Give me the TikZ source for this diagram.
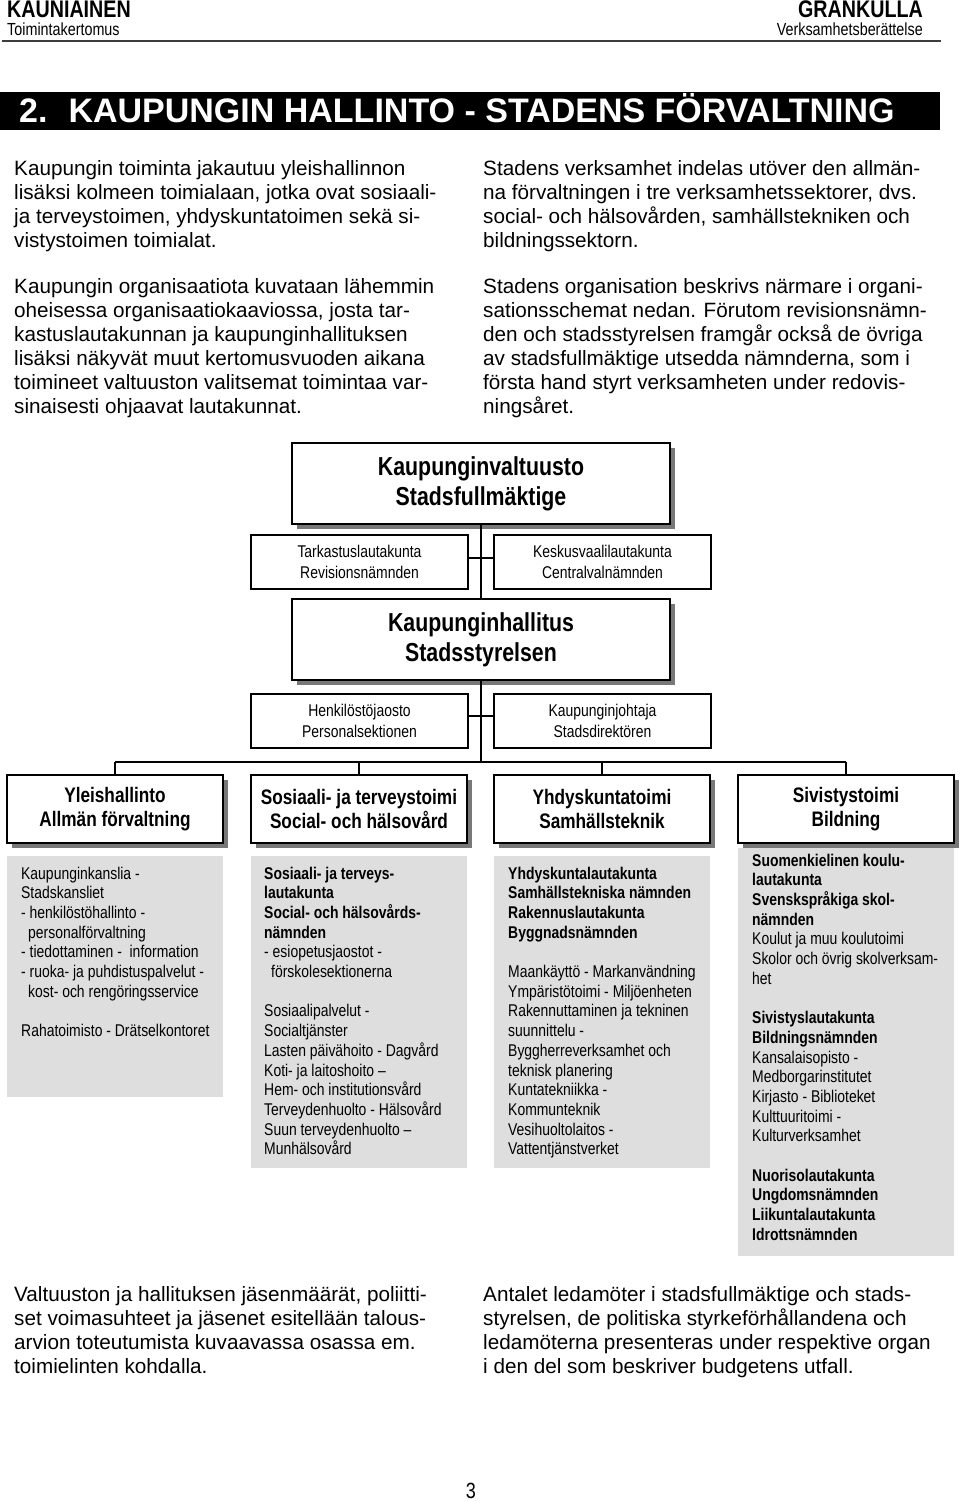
\documentclass[tikz,border=0pt]{standalone}
\usepackage{fontspec}
\setmainfont{Liberation Sans}
\newfontfamily\narrowfont[FakeStretch=0.82,Ligatures=TeX]{Liberation Sans}
\usetikzlibrary{shadows}
\definecolor{boxgray}{RGB}{222,222,222}
\definecolor{shadowgray}{RGB}{120,120,120}
\definecolor{rulegray}{RGB}{60,60,60}
\newcommand\txtlines[5]{%
  \foreach \Lt [count=\i from 0] in {#5} {
    \node[#1, name=#2-\i] at (#3, {#4+19.7*\i}) {\Lt};
  }%
}
\newcommand\bodylines[4]{%
  \foreach \Lt [count=\i from 0] in {#4} {
    \node[body, name=#1-\i] at (#2, {#3+24*\i}) {\Lt};
  }%
}
\begin{document}
\begin{tikzpicture}[x=1pt,y=-1pt,
  body/.style={anchor=base west, inner sep=0pt, font=\fontsize{20.7}{24}\selectfont},
  small/.style={anchor=base west, inner sep=0pt, font=\narrowfont\fontsize{17}{19.7}\selectfont},
  bigbox/.style={draw, line width=2pt, fill=white, minimum width=378pt, minimum height=81pt, inner sep=0pt, align=center, font=\narrowfont\fontsize{26}{30}\selectfont\bfseries, drop shadow={shadow xshift=5pt, shadow yshift=-5pt, fill=shadowgray, opacity=1}},
  subbox/.style={draw, line width=1.5pt, fill=white, minimum width=217pt, minimum height=54pt, inner sep=0pt, align=center, font=\narrowfont\fontsize{17}{21}\selectfont},
  colbox/.style={draw, line width=2pt, fill=white, minimum width=216pt, minimum height=68pt, inner sep=0pt, align=center, font=\narrowfont\fontsize{21}{24}\selectfont\bfseries, drop shadow={shadow xshift=5pt, shadow yshift=-5pt, fill=shadowgray, opacity=1}},
  conn/.style={line width=1.6pt},
]
\useasboundingbox (0,0) rectangle (960,1501);
\fill[white] (0,0) rectangle (960,1501);

% header
\node[anchor=base west, inner sep=0pt, font=\narrowfont\fontsize{24}{24}\selectfont\bfseries] (hl1) at (7,18) {KAUNIAINEN};
\node[anchor=base west, inner sep=0pt, font=\narrowfont\fontsize{17.5}{18}\selectfont] (hl2) at (7,36) {Toimintakertomus};
\node[anchor=base east, inner sep=0pt, font=\narrowfont\fontsize{24}{24}\selectfont\bfseries] (hr1) at (923,18) {GRANKULLA};
\node[anchor=base east, inner sep=0pt, font=\narrowfont\fontsize{17.5}{18}\selectfont] (hr2) at (923,36) {Verksamhetsberättelse};
\draw[line width=2pt, rulegray] (2,41) -- (941,41);

% title bar
\fill[black] (0,92) rectangle (940,130);
\node[anchor=base west, inner sep=0pt, text=white, font=\fontsize{34}{34}\selectfont\bfseries] (title) at (19,122.5) {2.\hspace{21pt}KAUPUNGIN HALLINTO - STADENS FÖRVALTNING};

% top paragraphs
\bodylines{pl1}{14}{175}{{Kaupungin toiminta jakautuu yleishallinnon},{lisäksi kolmeen toimialaan, jotka ovat sosiaali-},{ja terveystoimen, yhdyskuntatoimen sekä si-},{vistystoimen toimialat.}}
\bodylines{pl2}{14}{293}{{Kaupungin organisaatiota kuvataan lähemmin},{oheisessa organisaatiokaaviossa, josta tar-},{kastuslautakunnan ja kaupunginhallituksen},{lisäksi näkyvät muut kertomusvuoden aikana},{toimineet valtuuston valitsemat toimintaa var-},{sinaisesti ohjaavat lautakunnat.}}
\bodylines{pr1}{483}{175}{{Stadens verksamhet indelas utöver den allmän-},{na förvaltningen i tre verksamhetssektorer, dvs.},{social- och hälsovården, samhällstekniken och},{bildningssektorn.}}
\bodylines{pr2}{483}{293}{{Stadens organisation beskrivs närmare i organi-},{sationsschemat nedan. Förutom revisionsnämn-},{den och stadsstyrelsen framgår också de övriga},{av stadsfullmäktige utsedda nämnderna, som i},{första hand styrt verksamheten under redovis-},{ningsåret.}}

% org chart
\node[bigbox] (A) at (481,483.5) {Kaupunginvaltuusto\\Stadsfullmäktige};
\node[subbox] (T) at (359.5,562) {Tarkastuslautakunta\\Revisionsnämnden};
\node[subbox] (Kv) at (602.5,562) {Keskusvaalilautakunta\\Centralvalnämnden};
\node[bigbox] (H) at (481,639.5) {Kaupunginhallitus\\Stadsstyrelsen};
\node[subbox] (Hj) at (359.5,721) {Henkilöstöjaosto\\Personalsektionen};
\node[subbox] (Kj) at (602.5,721) {Kaupunginjohtaja\\Stadsdirektören};
\node[colbox] (c1) at (115,809) {Yleishallinto\\Allmän förvaltning};
\node[colbox] (c2) at (359,809) {Sosiaali- ja terveystoimi\\Social- och hälsovård};
\node[colbox] (c3) at (602,809) {Yhdyskuntatoimi\\Samhällsteknik};
\node[colbox] (c4) at (846,809) {Sivistystoimi\\Bildning};
\coordinate (bus) at (481,762);

\draw[conn] (A.south) -- (H.north);
\draw[conn] ([yshift=4pt]T.east) -- ([yshift=4pt]Kv.west);
\draw[conn] (H.south) -- (bus);
\draw[conn] ([yshift=5pt]Hj.east) -- ([yshift=5pt]Kj.west);
\draw[conn] (c1.north |- bus) -- (c4.north |- bus);
\foreach \c in {c1,c2,c3,c4} \draw[conn] (\c.north |- bus) -- (\c.north);

% grey boxes
\fill[boxgray] (7,856) rectangle (223,1097);
\fill[boxgray] (251,856) rectangle (467,1168);
\fill[boxgray] (494,856) rectangle (710,1168);
\fill[boxgray] (738,848) rectangle (954,1256);

\txtlines{small}{g1}{21}{879}{{Kaupunginkanslia -},{Stadskansliet},{- henkilöstöhallinto -},{\hspace{7pt}personalförvaltning},{- tiedottaminen -\ \ information},{- ruoka- ja puhdistuspalvelut -},{\hspace{7pt}kost- och rengöringsservice},{},{Rahatoimisto - Drätselkontoret}}
\txtlines{small}{g2}{264}{879}{{\bfseries Sosiaali- ja terveys-},{\bfseries lautakunta},{\bfseries Social- och hälsovårds-},{\bfseries nämnden},{- esiopetusjaostot -},{\hspace{7pt}förskolesektionerna},{},{Sosiaalipalvelut -},{Socialtjänster},{Lasten päivähoito - Dagvård},{Koti- ja laitoshoito –},{Hem- och institutionsvård},{Terveydenhuolto - Hälsovård},{Suun terveydenhuolto –},{Munhälsovård}}
\txtlines{small}{g3}{508}{879}{{\bfseries Yhdyskuntalautakunta},{\bfseries Samhällstekniska nämnden},{\bfseries Rakennuslautakunta},{\bfseries Byggnadsnämnden},{},{Maankäyttö - Markanvändning},{Ympäristötoimi - Miljöenheten},{Rakennuttaminen ja tekninen},{suunnittelu -},{Byggherreverksamhet och},{teknisk planering},{Kuntatekniikka -},{Kommunteknik},{Vesihuoltolaitos -},{Vattentjänstverket}}
\txtlines{small}{g4}{752}{866}{{\bfseries Suomenkielinen koulu-},{\bfseries lautakunta},{\bfseries Svenskspråkiga skol-},{\bfseries nämnden},{Koulut ja muu koulutoimi},{Skolor och övrig skolverksam-},{het},{},{\bfseries Sivistyslautakunta},{\bfseries Bildningsnämnden},{Kansalaisopisto -},{Medborgarinstitutet},{Kirjasto - Biblioteket},{Kulttuuritoimi -},{Kulturverksamhet},{},{\bfseries Nuorisolautakunta},{\bfseries Ungdomsnämnden},{\bfseries Liikuntalautakunta},{\bfseries Idrottsnämnden}}

% bottom paragraphs
\bodylines{bl}{14}{1301}{{Valtuuston ja hallituksen jäsenmäärät, poliitti-},{set voimasuhteet ja jäsenet esitellään talous-},{arvion toteutumista kuvaavassa osassa em.},{toimielinten kohdalla.}}
\bodylines{br}{483}{1301}{{Antalet ledamöter i stadsfullmäktige och stads-},{styrelsen, de politiska styrkeförhållandena och},{ledamöterna presenteras under respektive organ},{i den del som beskriver budgetens utfall.}}

\node[anchor=base, inner sep=0pt, font=\narrowfont\fontsize{22}{22}\selectfont] (pg) at (471,1498) {3};
\end{tikzpicture}
\end{document}
